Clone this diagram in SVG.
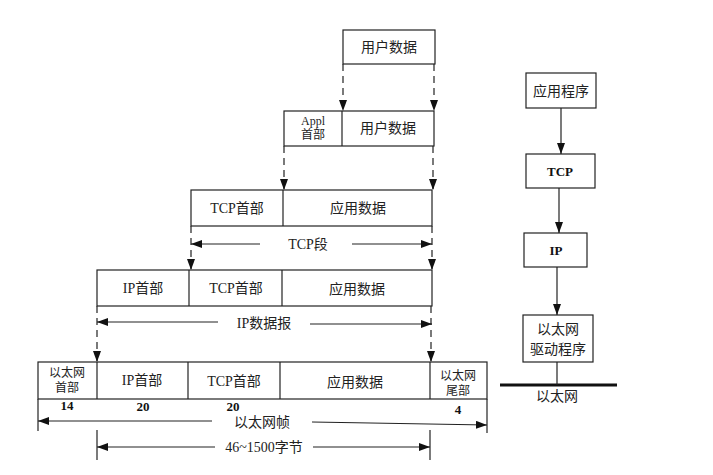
<svg xmlns="http://www.w3.org/2000/svg" width="713" height="475" viewBox="0 0 713 475">
<defs>
<marker id="ah" viewBox="0 0 11 8" refX="11" refY="4" markerWidth="11" markerHeight="8" markerUnits="userSpaceOnUse" orient="auto">
<path d="M0,0 L11,4 L0,8 Z" fill="#111"/>
</marker>
</defs>
<style>
.box{fill:#fff;stroke:#222;stroke-width:1.2}
.t{font-family:"Liberation Serif","Noto Sans CJK SC",serif;font-size:14px;fill:#222;text-anchor:middle}
.s{font-family:"Liberation Serif","Noto Sans CJK SC",serif;font-size:12px;fill:#222;text-anchor:middle}
.b{font-family:"Liberation Serif","Noto Sans CJK SC",serif;font-size:13px;font-weight:bold;fill:#111;text-anchor:middle}
.dash{stroke:#222;stroke-width:1.2;stroke-dasharray:7,5;fill:none}
.ln{stroke:#222;stroke-width:1.2;fill:none}
</style>
<rect width="713" height="475" fill="#fff"/>

<g id="row1">
<rect class="box" x="343" y="30" width="92" height="34"/>
<text class="t" x="389" y="52">用户数据</text>
</g>
<g id="row2">
<rect class="box" x="284" y="111" width="150" height="35"/>
<line class="ln" x1="342" y1="111" x2="342" y2="146"/>
<text class="s" x="313" y="125">Appl</text>
<text class="s" x="313" y="139">首部</text>
<text class="t" x="388" y="133">用户数据</text>
</g>
<g id="row3">
<rect class="box" x="191" y="190" width="241" height="36"/>
<line class="ln" x1="283" y1="190" x2="283" y2="226"/>
<text class="t" x="237" y="213">TCP首部</text>
<text class="t" x="358" y="213">应用数据</text>
</g>
<g id="row4">
<rect class="box" x="97" y="270" width="335" height="36"/>
<line class="ln" x1="189" y1="270" x2="189" y2="306"/>
<line class="ln" x1="282" y1="270" x2="282" y2="306"/>
<text class="t" x="143" y="293">IP首部</text>
<text class="t" x="236" y="293">TCP首部</text>
<text class="t" x="357" y="294">应用数据</text>
</g>
<g id="row5">
<rect class="box" x="38" y="362" width="449" height="37"/>
<line class="ln" x1="97" y1="362" x2="97" y2="399"/>
<line class="ln" x1="188" y1="362" x2="188" y2="399"/>
<line class="ln" x1="280" y1="362" x2="280" y2="399"/>
<line class="ln" x1="430" y1="362" x2="430" y2="399"/>
<text class="s" x="67" y="377">以太网</text>
<text class="s" x="67" y="392">首部</text>
<text class="t" x="142" y="385">IP首部</text>
<text class="t" x="234" y="386">TCP首部</text>
<text class="t" x="355" y="387">应用数据</text>
<text class="s" x="458" y="380">以太网</text>
<text class="s" x="458" y="395">尾部</text>
<text class="b" x="67" y="410">14</text>
<text class="b" x="143" y="411">20</text>
<text class="b" x="233" y="411">20</text>
<text class="b" x="458" y="414">4</text>
</g>

<g id="stack">
<g id="app"><rect class="box" x="526" y="73" width="70" height="35"/><text class="t" x="561" y="96">应用程序</text></g>
<g id="tcp"><rect class="box" x="526" y="154" width="69" height="34"/><text class="b" x="560" y="176">TCP</text></g>
<g id="ip"><rect class="box" x="524" y="233" width="63" height="34"/><text class="b" x="556" y="255">IP</text></g>
<g id="drv"><rect class="box" x="523" y="315" width="70" height="47"/><text class="t" x="558" y="334">以太网</text><text class="t" x="558" y="354">驱动程序</text></g>
<g id="eth"><line x1="500" y1="385" x2="617" y2="385" stroke="#111" stroke-width="3"/><text class="t" x="557" y="401">以太网</text></g>
</g>

<g id="connectors">
<line class="dash" x1="343" y1="64" x2="343" y2="111" marker-end="url(#ah)"/>
<line class="dash" x1="434" y1="64" x2="434" y2="111" marker-end="url(#ah)"/>
<line class="dash" x1="284" y1="146" x2="284" y2="190" marker-end="url(#ah)"/>
<line class="dash" x1="433" y1="146" x2="433" y2="190" marker-end="url(#ah)"/>
<line class="dash" x1="191" y1="226" x2="191" y2="270" marker-end="url(#ah)"/>
<line class="dash" x1="432" y1="226" x2="432" y2="270" marker-end="url(#ah)"/>
<line class="dash" x1="97" y1="306" x2="97" y2="362" marker-end="url(#ah)"/>
<line class="dash" x1="431" y1="306" x2="431" y2="362" marker-end="url(#ah)"/>

<line class="ln" x1="260" y1="244" x2="191" y2="244" marker-end="url(#ah)"/>
<line class="ln" x1="352" y1="244" x2="432" y2="244" marker-end="url(#ah)"/>
<text class="t" x="308" y="249">TCP段</text>

<line class="ln" x1="218" y1="322" x2="97" y2="322" marker-end="url(#ah)"/>
<line class="ln" x1="310" y1="324" x2="432" y2="324" marker-end="url(#ah)"/>
<text class="t" x="264" y="328">IP数据报</text>

<line class="ln" x1="38" y1="399" x2="38" y2="431"/>
<line class="ln" x1="487" y1="399" x2="487" y2="433"/>
<line class="ln" x1="212" y1="421" x2="38" y2="421" marker-end="url(#ah)"/>
<line class="ln" x1="312" y1="422" x2="487" y2="425" marker-end="url(#ah)"/>
<text class="t" x="262" y="427">以太网帧</text>

<line class="ln" x1="97" y1="430" x2="97" y2="460"/>
<line class="ln" x1="430" y1="430" x2="430" y2="460"/>
<line class="ln" x1="215" y1="447" x2="97" y2="447" marker-end="url(#ah)"/>
<line class="ln" x1="313" y1="447" x2="430" y2="447" marker-end="url(#ah)"/>
<text class="t" x="264" y="452">46~1500字节</text>

<line class="ln" x1="561" y1="108" x2="561" y2="154" marker-end="url(#ah)"/>
<line class="ln" x1="559" y1="188" x2="559" y2="233" marker-end="url(#ah)"/>
<line class="ln" x1="557" y1="267" x2="557" y2="315" marker-end="url(#ah)"/>
<line class="ln" x1="557" y1="362" x2="557" y2="385"/>
</g>
</svg>
